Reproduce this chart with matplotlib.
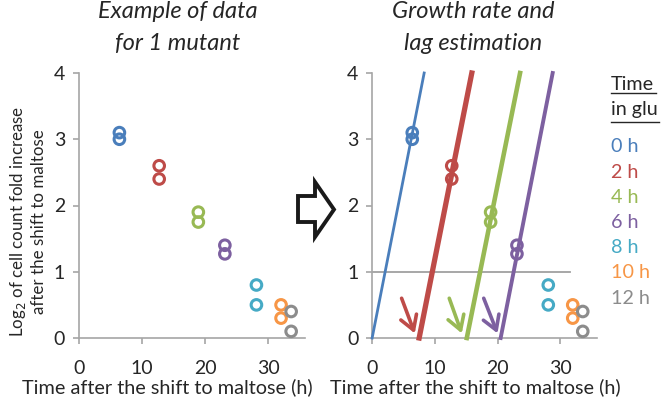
import matplotlib.pyplot as plt
import numpy as np
from matplotlib.patches import Polygon

plt.rcParams['font.family'] = ['Lato', 'DejaVu Sans']

# time in glucose (h) and colours
time_glu = ["0 h", "2 h", "4 h", "6 h", "8 h", "10 h", "12 h"]
colors = ["#4a7ebb", "#be4b48", "#98b954", "#7d60a0", "#46aac5", "#f79646", "#8c8c8c"]

# measured points (two replicates per condition)
x_pts = [6.4, 12.7, 18.9, 23.1, 28.1, 32.0, 33.6]
y_rep1 = [3.1, 2.6, 1.9, 1.4, 0.8, 0.5, 0.4]
y_rep2 = [3.0, 2.4, 1.75, 1.27, 0.5, 0.3, 0.1]

# fitted growth lines: lag (x at y=0) and x at y=4
lag = [0.0, 7.5, 15.1, 20.5]
x_top = [8.3, 15.9, 23.6, 28.8]
line_w = [2.0, 3.8, 3.3, 2.8]

# lag arrows (start -> tip)
arr_x0 = [4.7, 12.3, 17.8]
arr_x1 = [6.8, 14.3, 20.0]

W, H = 661, 400
fig = plt.figure(figsize=(W / 100, H / 100), dpi=100)
ax1 = fig.add_axes([0.1195, 0.155, 0.342, 0.6625])
ax2 = fig.add_axes([0.563, 0.155, 0.3395, 0.6625])

dark = "#262626"
grey = "#a6a6a6"
for ax in (ax1, ax2):
    ax.set_xlim(0, 35.8)
    ax.set_ylim(0, 4)
    ax.set_xticks([0, 10, 20, 30])
    ax.set_yticks([0, 1, 2, 3, 4])
    for s in ["top", "right"]:
        ax.spines[s].set_visible(False)
    for s in ["left", "bottom"]:
        ax.spines[s].set_color(grey)
        ax.spines[s].set_linewidth(1.2)
    ax.tick_params(colors=grey, labelcolor=dark, labelsize=14, length=4, width=1.2)
    ax.tick_params(axis="x", pad=12)
    ax.tick_params(axis="y", pad=6)
    ax.set_xlabel("Time after the shift to maltose (h)", fontsize=14.3, color=dark, va="top")
    for i in range(len(x_pts)):
        ax.scatter([x_pts[i], x_pts[i]], [y_rep1[i], y_rep2[i]], s=58, facecolors="none",
                   edgecolors=colors[i], linewidths=2.2, zorder=4, clip_on=False)

ax1.xaxis.set_label_coords(0.389, -0.15)
ax2.xaxis.set_label_coords(0.458, -0.15)

ax1.set_ylabel("Log$_2$ of cell count fold increase\nafter the shift to maltose",
               fontsize=12.2, color=dark, linespacing=1.25)
ax1.yaxis.set_label_coords(-0.142, 0.44)

# panel titles
fig.text(178 / W, 1 - 18 / H, "Example of data", fontsize=17, style="italic", color=dark,
         ha="center", va="baseline")
fig.text(178 / W, 1 - 50 / H, "for 1 mutant", fontsize=17, style="italic", color=dark,
         ha="center", va="baseline")
fig.text(473 / W, 1 - 18 / H, "Growth rate and", fontsize=17, style="italic", color=dark,
         ha="center", va="baseline")
fig.text(473 / W, 1 - 50 / H, "lag estimation", fontsize=17, style="italic", color=dark,
         ha="center", va="baseline")

# threshold line
ax2.plot([0, 31.5], [1, 1], color="#a0a0a0", lw=1.3, zorder=1)

# fitted lines
for i in range(len(lag)):
    ax2.plot([lag[i], x_top[i]], [0, 4], color=colors[i], lw=line_w[i], zorder=3, clip_on=False)

# lag arrows
for i in range(len(arr_x0)):
    ax2.annotate("", xy=(arr_x1[i], 0.07), xytext=(arr_x0[i], 0.6),
                 arrowprops=dict(arrowstyle="->,head_length=0.5,head_width=0.3",
                                 color=colors[i + 1], lw=2.6,
                                 mutation_scale=20, shrinkA=0, shrinkB=0))

# legend text
lx = 611 / W
fig.text(lx, 1 - 90 / H, "Time", fontsize=14.2, color=dark, va="baseline", ha="left")
fig.text(lx, 1 - 115 / H, "in glu", fontsize=14.2, color=dark, va="baseline", ha="left")
fig.add_artist(plt.Line2D([lx, 656 / W], [1 - 93 / H, 1 - 93 / H], color=dark, lw=1.0))
fig.add_artist(plt.Line2D([lx, 659 / W], [1 - 122 / H, 1 - 122 / H], color=dark, lw=1.0))
for i, lbl in enumerate(time_glu):
    fig.text(lx, 1 - (147 + i * 25.2) / H, lbl, fontsize=14.2, color=colors[i],
             va="center", ha="left")

# hollow block arrow between panels (figure pixel coords)
pts = [(298, 196), (315, 196), (315, 182), (334, 209.5), (315, 237), (315, 222), (298, 222)]
pts = [(px / W, 1 - py / H) for px, py in pts]
fig.add_artist(Polygon(pts, closed=True, facecolor="white", edgecolor="#1a1a1a", lw=2.8,
                       transform=fig.transFigure, joinstyle="miter"))

fig.savefig("out.png", dpi=100)
